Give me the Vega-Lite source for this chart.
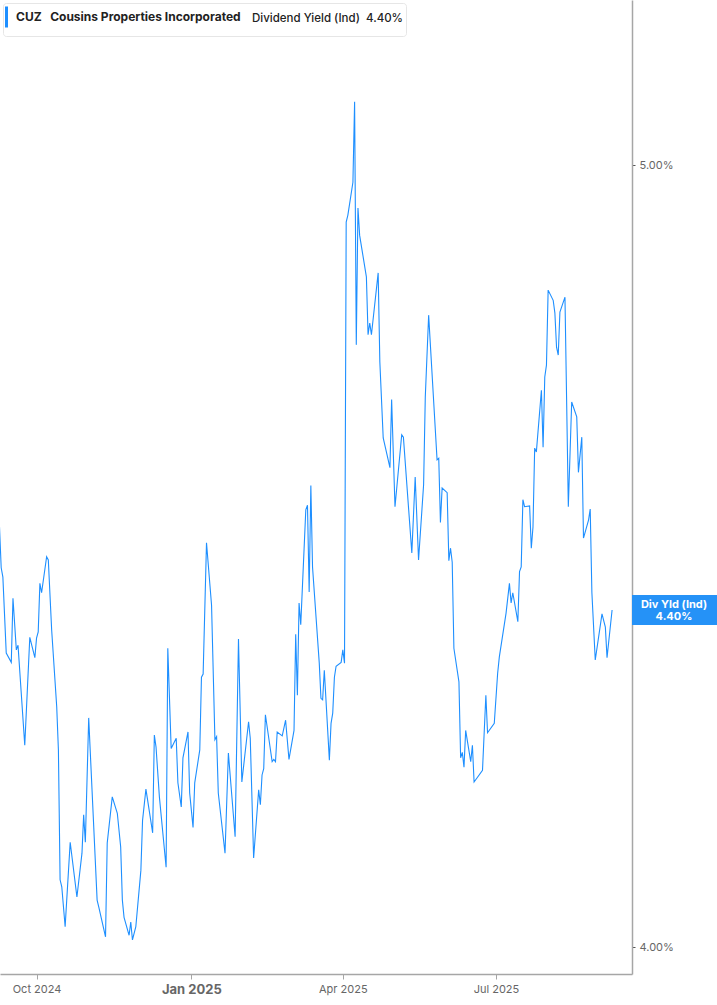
{
  "$schema": "https://vega.github.io/schema/vega-lite/v6.json",
  "width": 632,
  "height": 974,
  "autosize": "none",
  "padding": {"left": 0, "top": 0, "right": 85, "bottom": 31},
  "background": "white",
  "config": {"view": {"stroke": null}, "font": "Inter"},
  "datasets": {
    "cuz": [
      {"date": "2024-09-09", "yield": 4.537}, {"date": "2024-09-10", "yield": 4.485}, {"date": "2024-09-11", "yield": 4.473},
      {"date": "2024-09-13", "yield": 4.376}, {"date": "2024-09-16", "yield": 4.364}, {"date": "2024-09-17", "yield": 4.446},
      {"date": "2024-09-19", "yield": 4.380}, {"date": "2024-09-20", "yield": 4.386}, {"date": "2024-09-24", "yield": 4.258},
      {"date": "2024-09-27", "yield": 4.396}, {"date": "2024-09-30", "yield": 4.370}, {"date": "2024-10-01", "yield": 4.395},
      {"date": "2024-10-02", "yield": 4.403}, {"date": "2024-10-03", "yield": 4.465}, {"date": "2024-10-04", "yield": 4.453},
      {"date": "2024-10-07", "yield": 4.499}, {"date": "2024-10-08", "yield": 4.495}, {"date": "2024-10-10", "yield": 4.405},
      {"date": "2024-10-13", "yield": 4.307}, {"date": "2024-10-14", "yield": 4.252}, {"date": "2024-10-15", "yield": 4.086},
      {"date": "2024-10-16", "yield": 4.077}, {"date": "2024-10-18", "yield": 4.026}, {"date": "2024-10-21", "yield": 4.134},
      {"date": "2024-10-25", "yield": 4.064}, {"date": "2024-10-28", "yield": 4.120}, {"date": "2024-10-29", "yield": 4.169},
      {"date": "2024-10-30", "yield": 4.134}, {"date": "2024-11-01", "yield": 4.293}, {"date": "2024-11-06", "yield": 4.060},
      {"date": "2024-11-07", "yield": 4.051}, {"date": "2024-11-11", "yield": 4.013}, {"date": "2024-11-12", "yield": 4.133},
      {"date": "2024-11-15", "yield": 4.192}, {"date": "2024-11-18", "yield": 4.171}, {"date": "2024-11-20", "yield": 4.128},
      {"date": "2024-11-21", "yield": 4.060}, {"date": "2024-11-22", "yield": 4.038}, {"date": "2024-11-25", "yield": 4.015},
      {"date": "2024-11-26", "yield": 4.032}, {"date": "2024-11-27", "yield": 4.009}, {"date": "2024-11-29", "yield": 4.026},
      {"date": "2024-12-02", "yield": 4.098}, {"date": "2024-12-03", "yield": 4.162}, {"date": "2024-12-05", "yield": 4.202},
      {"date": "2024-12-09", "yield": 4.146}, {"date": "2024-12-10", "yield": 4.271}, {"date": "2024-12-11", "yield": 4.256},
      {"date": "2024-12-13", "yield": 4.192}, {"date": "2024-12-17", "yield": 4.102}, {"date": "2024-12-18", "yield": 4.382},
      {"date": "2024-12-20", "yield": 4.254}, {"date": "2024-12-23", "yield": 4.267}, {"date": "2024-12-24", "yield": 4.210},
      {"date": "2024-12-26", "yield": 4.179}, {"date": "2024-12-27", "yield": 4.242}, {"date": "2024-12-30", "yield": 4.275},
      {"date": "2024-12-31", "yield": 4.197}, {"date": "2025-01-02", "yield": 4.153}, {"date": "2025-01-03", "yield": 4.210},
      {"date": "2025-01-06", "yield": 4.252}, {"date": "2025-01-07", "yield": 4.345}, {"date": "2025-01-08", "yield": 4.349},
      {"date": "2025-01-10", "yield": 4.517}, {"date": "2025-01-13", "yield": 4.437}, {"date": "2025-01-15", "yield": 4.265},
      {"date": "2025-01-16", "yield": 4.269}, {"date": "2025-01-17", "yield": 4.197}, {"date": "2025-01-21", "yield": 4.120},
      {"date": "2025-01-23", "yield": 4.248}, {"date": "2025-01-27", "yield": 4.141}, {"date": "2025-01-29", "yield": 4.394},
      {"date": "2025-01-31", "yield": 4.211}, {"date": "2025-02-04", "yield": 4.288}, {"date": "2025-02-05", "yield": 4.267},
      {"date": "2025-02-07", "yield": 4.114}, {"date": "2025-02-10", "yield": 4.201}, {"date": "2025-02-11", "yield": 4.182},
      {"date": "2025-02-12", "yield": 4.220}, {"date": "2025-02-13", "yield": 4.228}, {"date": "2025-02-14", "yield": 4.297},
      {"date": "2025-02-18", "yield": 4.237}, {"date": "2025-02-19", "yield": 4.240}, {"date": "2025-02-20", "yield": 4.237},
      {"date": "2025-02-21", "yield": 4.275}, {"date": "2025-02-24", "yield": 4.270}, {"date": "2025-02-26", "yield": 4.290},
      {"date": "2025-02-28", "yield": 4.240}, {"date": "2025-03-03", "yield": 4.277}, {"date": "2025-03-04", "yield": 4.400},
      {"date": "2025-03-05", "yield": 4.322}, {"date": "2025-03-06", "yield": 4.440}, {"date": "2025-03-07", "yield": 4.412},
      {"date": "2025-03-10", "yield": 4.559}, {"date": "2025-03-11", "yield": 4.565}, {"date": "2025-03-12", "yield": 4.454},
      {"date": "2025-03-13", "yield": 4.590}, {"date": "2025-03-14", "yield": 4.486}, {"date": "2025-03-18", "yield": 4.363},
      {"date": "2025-03-19", "yield": 4.318}, {"date": "2025-03-20", "yield": 4.316}, {"date": "2025-03-21", "yield": 4.354},
      {"date": "2025-03-24", "yield": 4.239}, {"date": "2025-03-25", "yield": 4.286}, {"date": "2025-03-26", "yield": 4.299},
      {"date": "2025-03-27", "yield": 4.345}, {"date": "2025-03-28", "yield": 4.359}, {"date": "2025-03-31", "yield": 4.364},
      {"date": "2025-04-01", "yield": 4.380}, {"date": "2025-04-02", "yield": 4.363}, {"date": "2025-04-03", "yield": 4.927},
      {"date": "2025-04-04", "yield": 4.936}, {"date": "2025-04-07", "yield": 4.978}, {"date": "2025-04-08", "yield": 5.081},
      {"date": "2025-04-09", "yield": 4.770}, {"date": "2025-04-10", "yield": 4.945}, {"date": "2025-04-11", "yield": 4.910},
      {"date": "2025-04-15", "yield": 4.857}, {"date": "2025-04-16", "yield": 4.783}, {"date": "2025-04-17", "yield": 4.798},
      {"date": "2025-04-18", "yield": 4.783}, {"date": "2025-04-22", "yield": 4.862}, {"date": "2025-04-23", "yield": 4.748},
      {"date": "2025-04-25", "yield": 4.651}, {"date": "2025-04-29", "yield": 4.613}, {"date": "2025-04-30", "yield": 4.700},
      {"date": "2025-05-02", "yield": 4.563}, {"date": "2025-05-06", "yield": 4.655}, {"date": "2025-05-07", "yield": 4.652},
      {"date": "2025-05-12", "yield": 4.504}, {"date": "2025-05-14", "yield": 4.601}, {"date": "2025-05-16", "yield": 4.495},
      {"date": "2025-05-19", "yield": 4.591}, {"date": "2025-05-20", "yield": 4.703}, {"date": "2025-05-22", "yield": 4.808},
      {"date": "2025-05-27", "yield": 4.623}, {"date": "2025-05-28", "yield": 4.625}, {"date": "2025-05-29", "yield": 4.543},
      {"date": "2025-05-30", "yield": 4.587}, {"date": "2025-06-02", "yield": 4.581}, {"date": "2025-06-03", "yield": 4.494},
      {"date": "2025-06-04", "yield": 4.510}, {"date": "2025-06-05", "yield": 4.492}, {"date": "2025-06-06", "yield": 4.382},
      {"date": "2025-06-09", "yield": 4.339}, {"date": "2025-06-10", "yield": 4.242}, {"date": "2025-06-11", "yield": 4.249},
      {"date": "2025-06-12", "yield": 4.230}, {"date": "2025-06-13", "yield": 4.277}, {"date": "2025-06-16", "yield": 4.237},
      {"date": "2025-06-17", "yield": 4.258}, {"date": "2025-06-18", "yield": 4.211}, {"date": "2025-06-23", "yield": 4.226},
      {"date": "2025-06-25", "yield": 4.322}, {"date": "2025-06-26", "yield": 4.274}, {"date": "2025-06-30", "yield": 4.286},
      {"date": "2025-07-02", "yield": 4.350}, {"date": "2025-07-03", "yield": 4.371}, {"date": "2025-07-07", "yield": 4.427},
      {"date": "2025-07-09", "yield": 4.465}, {"date": "2025-07-10", "yield": 4.440}, {"date": "2025-07-11", "yield": 4.453},
      {"date": "2025-07-14", "yield": 4.416}, {"date": "2025-07-15", "yield": 4.480}, {"date": "2025-07-16", "yield": 4.486},
      {"date": "2025-07-17", "yield": 4.572}, {"date": "2025-07-18", "yield": 4.563}, {"date": "2025-07-21", "yield": 4.564},
      {"date": "2025-07-22", "yield": 4.510}, {"date": "2025-07-23", "yield": 4.537}, {"date": "2025-07-24", "yield": 4.638},
      {"date": "2025-07-25", "yield": 4.633}, {"date": "2025-07-28", "yield": 4.712}, {"date": "2025-07-29", "yield": 4.639},
      {"date": "2025-07-30", "yield": 4.729}, {"date": "2025-07-31", "yield": 4.744}, {"date": "2025-08-01", "yield": 4.840},
      {"date": "2025-08-04", "yield": 4.827}, {"date": "2025-08-05", "yield": 4.811}, {"date": "2025-08-06", "yield": 4.767},
      {"date": "2025-08-07", "yield": 4.757}, {"date": "2025-08-08", "yield": 4.812}, {"date": "2025-08-11", "yield": 4.831},
      {"date": "2025-08-13", "yield": 4.563}, {"date": "2025-08-15", "yield": 4.697}, {"date": "2025-08-18", "yield": 4.678},
      {"date": "2025-08-19", "yield": 4.607}, {"date": "2025-08-21", "yield": 4.652}, {"date": "2025-08-22", "yield": 4.523},
      {"date": "2025-08-25", "yield": 4.546}, {"date": "2025-08-26", "yield": 4.560}, {"date": "2025-08-27", "yield": 4.453},
      {"date": "2025-08-29", "yield": 4.367}, {"date": "2025-09-02", "yield": 4.426}, {"date": "2025-09-04", "yield": 4.409},
      {"date": "2025-09-05", "yield": 4.370}, {"date": "2025-09-08", "yield": 4.431}
    ],
    "lastLabel": [
      {"date": "2025-09-19T20:00:00Z", "yield": 4.431, "label": "Div Yld (Ind)\n4.40%"}
    ]
  },
  "layer": [
    {
      "data": {"name": "cuz"},
      "mark": {"type": "line", "strokeWidth": 1.1, "clip": true},
      "encoding": {
        "x": {
          "field": "date",
          "type": "temporal",
          "scale": {
            "type": "utc",
            "domain": [
              {"year": 2024, "month": 9, "date": 9, "hours": 7, "utc": true},
              {"year": 2025, "month": 9, "date": 19, "hours": 20, "utc": true}
            ]
          },
          "axis": {
            "title": null,
            "grid": false,
            "format": "%b %Y",
            "tickCount": {"interval": "month", "step": 3},
            "domainColor": "#a6a6a6",
            "domainWidth": 1.5,
            "tickColor": "#a6a6a6",
            "tickSize": 5,
            "labelColor": "#666666",
            "labelPadding": 4,
            "labelFontSize": {"condition": {"test": "utcmonth(datum.value) == 0", "value": 13}, "value": 11},
            "labelFontWeight": {"condition": {"test": "utcmonth(datum.value) == 0", "value": "bold"}, "value": "normal"}
          }
        },
        "y": {
          "field": "yield",
          "type": "quantitative",
          "scale": {"domain": [3.9655, 5.211], "zero": false, "nice": false},
          "axis": {
            "orient": "right",
            "title": null,
            "grid": false,
            "values": [4, 5],
            "labelExpr": "format(datum.value, '.2f') + '%'",
            "domainColor": "#a6a6a6",
            "domainWidth": 1.5,
            "tickColor": "#555555",
            "tickSize": 3,
            "labelColor": "#666666",
            "labelFontSize": 11,
            "labelPadding": 4
          }
        },
        "color": {
          "datum": "CUZ\u00a0\u00a0\u00a0Cousins Properties Incorporated",
          "type": "nominal",
          "scale": {"range": ["#1e8fff"]},
          "legend": {
            "orient": "top-left",
            "offset": 3,
            "title": "Dividend Yield (Ind)\u00a0\u00a04.40%",
            "titleOrient": "right",
            "titleAnchor": "middle",
            "titleBaseline": "middle",
            "titleFont": "Inter",
            "titleFontSize": 11.5,
            "titleFontWeight": 500,
            "titleColor": "#222222",
            "titlePadding": 11,
            "labelFont": "Inter",
            "labelFontSize": 12,
            "labelFontWeight": "bold",
            "labelColor": "#222222",
            "labelLimit": 400,
            "labelOffset": -13,
            "symbolType": "M-1,-1L-1,1",
            "symbolSize": 441,
            "symbolStrokeWidth": 3,
            "symbolStrokeColor": "#1e8fff",
            "fillColor": "white",
            "strokeColor": "#e6e6e6",
            "cornerRadius": 3,
            "padding": 2
          }
        }
      }
    },
    {
      "data": {"name": "lastLabel"},
      "mark": {
        "type": "point",
        "shape": "M0,-0.353L2,-0.353L2,0.353L0,0.353Z",
        "size": 7225,
        "filled": true,
        "fill": "#2592f7",
        "strokeWidth": 0,
        "opacity": 1
      },
      "encoding": {
        "x": {"field": "date", "type": "temporal"},
        "y": {"field": "yield", "type": "quantitative"}
      }
    },
    {
      "data": {"name": "lastLabel"},
      "mark": {
        "type": "text",
        "dx": 42,
        "dy": -5,
        "align": "center",
        "baseline": "middle",
        "color": "white",
        "font": "Inter",
        "fontWeight": "bold",
        "fontSize": 11,
        "lineBreak": "\n",
        "lineHeight": 12
      },
      "encoding": {
        "x": {"field": "date", "type": "temporal"},
        "y": {"field": "yield", "type": "quantitative"},
        "text": {"field": "label"}
      }
    }
  ]
}
